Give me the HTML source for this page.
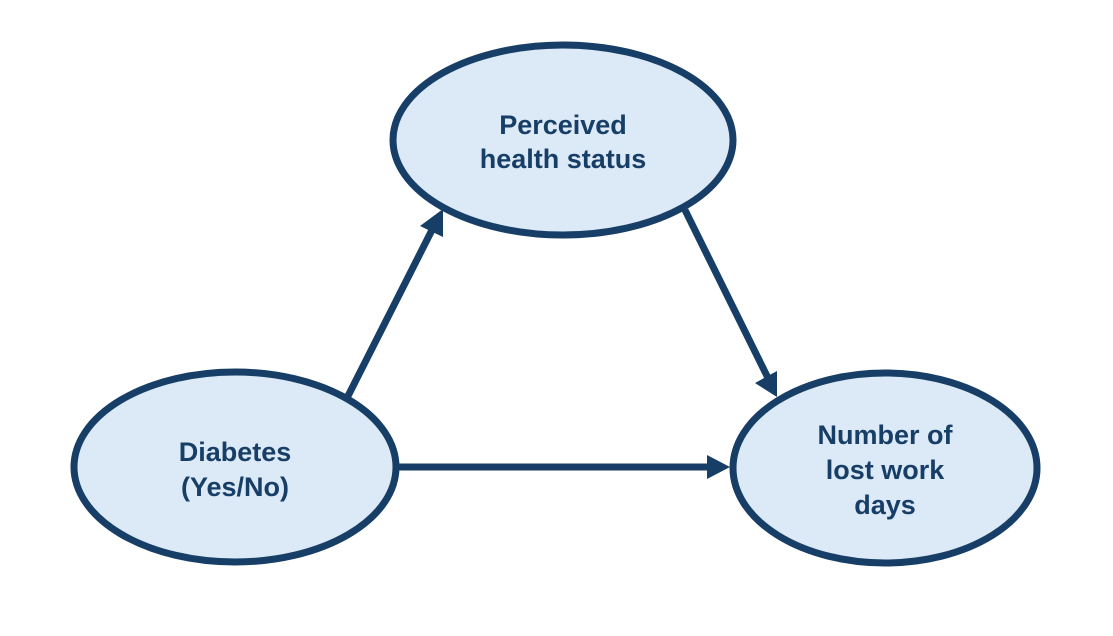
<!DOCTYPE html>
<html><head><style>body{margin:0;background:#fff}svg{display:block}</style></head><body>
<svg width="1113" height="636" viewBox="0 0 1113 636" xmlns="http://www.w3.org/2000/svg">
<g fill="#dce9f6" stroke="#173e66" stroke-width="7">
<ellipse cx="563" cy="140" rx="170" ry="95"/>
<ellipse cx="235" cy="467" rx="161" ry="95"/>
<ellipse cx="885" cy="468" rx="152" ry="95"/>
</g>
<g stroke="#173e66" stroke-width="7" fill="none">
<line x1="348" y1="396" x2="433" y2="228"/>
<line x1="685" y1="210" x2="768" y2="378"/>
<line x1="397" y1="467" x2="712" y2="467"/>
</g>
<g fill="#173e66">
<polygon points="443,209 443,237 420,226"/>
<polygon points="777,397 755,383 777,371"/>
<polygon points="730,467 707,455 707,479"/>
</g>
<g font-family="Liberation Sans, sans-serif" font-weight="bold" font-size="27" fill="#173e66" text-anchor="middle">
<text x="563" y="134">Perceived</text>
<text x="563" y="168">health status</text>
<text x="235" y="461">Diabetes</text>
<text x="235" y="496">(Yes/No)</text>
<text x="885" y="444">Number of</text>
<text x="885" y="479">lost work</text>
<text x="885" y="514">days</text>
</g>
</svg>
</body></html>
